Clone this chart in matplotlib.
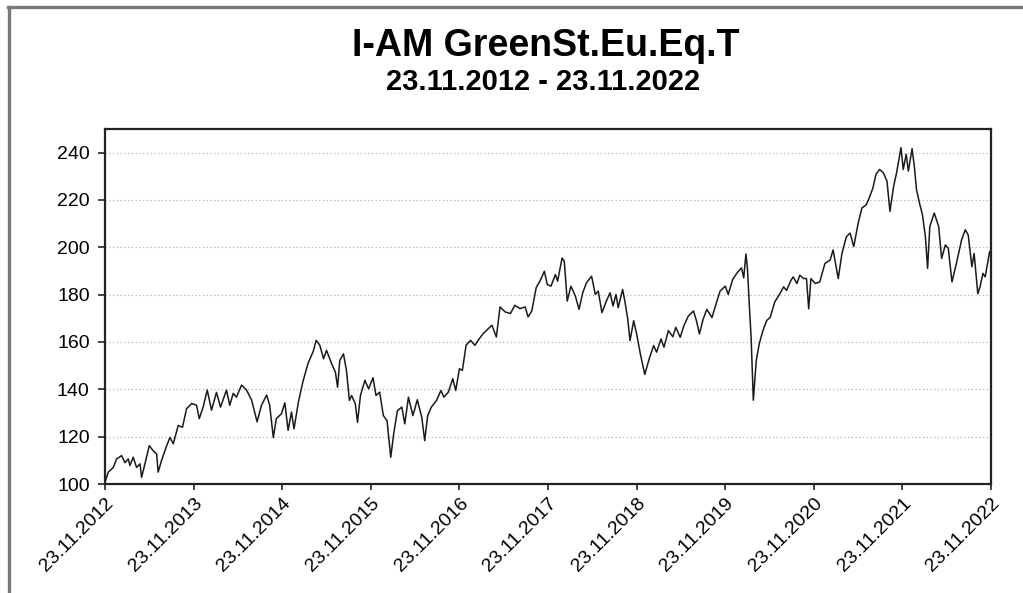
import numpy as np
import pandas as pd
import matplotlib
matplotlib.use('Agg')
import matplotlib.pyplot as plt
from matplotlib.lines import Line2D

plt.rcParams['font.family'] = ['Liberation Sans', 'DejaVu Sans']

# ── Data: months since 23.11.2012 and fund value ─────────────────────────────
START = pd.Timestamp('2012-11-23')
months = [
    0.0, 0.45, 1.13, 1.58, 2.26, 2.7, 3.16, 3.38, 3.83, 4.28, 4.74, 4.96, 5.41,
    6.0, 6.54, 7.0, 7.2, 7.67, 8.34, 8.8, 9.25, 9.92, 10.5, 11.05, 11.73, 12.4,
    12.77, 13.3, 13.85, 14.43, 15.1, 15.65, 16.46, 16.9, 17.37, 17.8, 18.5,
    19.17, 19.85, 20.6, 21.2, 21.9, 22.3, 22.8, 23.2, 23.9, 24.36, 24.8, 25.26,
    25.6, 26.2, 26.8, 27.5, 28.2, 28.6,
    29.1, 29.6, 30.0, 30.7, 31.2, 31.5, 31.8, 32.3, 32.7, 33.1, 33.4, 33.9,
    34.2, 34.6, 35.2, 35.7, 36.3, 36.7, 37.2, 37.7, 38.2, 38.7, 39.1, 39.6,
    40.2, 40.6, 41.1, 41.7, 42.3, 42.9, 43.3, 43.7, 44.2, 44.9, 45.5, 45.9,
    46.5, 47.1, 47.5, 48.0, 48.4, 48.9, 49.5, 50.1, 50.7, 51.2, 51.7, 52.4,
    53.0, 53.5, 54.2, 54.9, 55.5, 56.2, 56.9, 57.3, 57.8, 58.4,
    58.9, 59.5, 59.9, 60.4, 61.0, 61.3, 61.9, 62.2, 62.6, 63.1, 63.7, 64.2,
    64.7, 65.2, 65.9, 66.4, 66.8, 67.3, 67.9, 68.4, 68.8, 69.2, 69.5, 70.1,
    70.4, 70.8, 71.1, 71.6, 72.0, 72.5, 73.1, 73.7, 74.3, 74.7, 75.3, 75.7,
    76.3, 76.9, 77.3, 77.9, 78.4, 79.0, 79.7, 80.1, 80.5, 81.0, 81.5, 82.2,
    82.8, 83.3, 84.0, 84.4, 85.0, 85.6, 86.2, 86.5, 86.8, 87.0, 87.3, 87.5,
    87.8, 88.2, 88.6, 89.1, 89.6,
    90.1, 90.7, 91.4, 91.9, 92.3, 92.9, 93.2, 93.7, 94.1, 94.6, 95.0, 95.3,
    95.6, 96.2, 96.8, 97.5, 98.2, 98.6, 99.3, 99.8, 100.4, 100.9, 101.4,
    102.0, 102.5, 103.1, 103.5, 104.0, 104.4, 104.9, 105.4, 105.9, 106.3,
    106.8, 107.2, 107.8, 108.1, 108.5, 108.8, 109.3, 109.6, 109.9, 110.3,
    110.7, 111.1, 111.4, 111.7, 112.3, 112.9, 113.3, 113.8, 114.2, 114.7,
    115.3, 116.0, 116.5, 116.9, 117.4, 117.7, 118.2, 118.5, 118.9, 119.2,
    119.8, 120.0,
]
values = [
    100.7, 105, 107, 110.6, 112, 109, 110.6, 107.8, 111.3, 107, 108.5, 102.8,
    108.5, 116.2, 114, 112.7, 105, 110, 116, 119.7, 117, 124.7, 124, 131.8,
    134, 133.3, 127.6, 132.6, 139.7, 131.2, 138.7, 132.5, 139.7, 133.3, 138.3,
    136.7, 141.8, 139.7, 135.5, 126.3, 133.3, 137.6, 133.3, 119.6, 127.6,
    129.7, 134.3, 122.7, 130.4, 123.3, 134.7, 143.2, 151, 156, 160.7,
    158.6, 152.9, 156.5, 150.8, 147.3, 140.9, 152.2, 155, 148, 135.3, 137.4,
    133.9, 126.1, 137.4, 143.8, 140.2, 144.9, 137.4, 138.8, 128.9, 126.8,
    111.3, 121.2, 131, 132.5, 125.4, 136.7, 128.9, 135.6, 128.2, 118.3, 128.9,
    132.5, 135.3, 139.5, 136.7, 138.8, 144.5, 139.5, 148.7, 148, 158.6, 160.7,
    158.6, 161.4, 163.5, 165, 167.1, 162.1, 174.8, 172.7, 172, 175.5, 174.1,
    174.8, 170.6, 173.1, 183,
    185.7, 189.9, 184.3, 183.6, 188.5, 185.7, 195.5, 194.1, 177.3, 183.6,
    179.4, 173.8, 180.8, 185, 187.8, 180.1, 181.5, 172.4, 177.3, 180.8, 175.2,
    180.1, 174.5, 182.2, 177.3, 169.6, 160.6, 169, 163.4, 155, 146.3, 152.9,
    158.5, 155.7, 161.3, 157.8, 164.8, 162.2, 166.2, 162, 166.9, 171, 173.1,
    169, 163.4, 169.6, 173.8, 170.3, 176.6, 181.5, 183.6, 180.1, 186.4, 189.2,
    191.3, 187.1, 197.2, 191.3, 173.1, 162, 135.4, 152.2, 159.2, 164.8, 169,
    170.5, 176.9, 180.4, 183.3, 181.8, 186.1, 187.5, 184.7, 188.2, 186.8,
    186.8, 174, 186.8, 184.7, 185.4, 193.2, 194.6, 198.9, 186.8, 197.4, 204.5,
    206, 200.3, 210.2, 216.6, 218, 220.9, 225.1, 230.8, 232.9, 231.5, 228,
    215.2, 225.8, 231.5, 242.1, 232.9, 239.3, 232.2, 241.7, 234.3, 224.4,
    218.7, 213.8, 204.5, 191.1, 208.8, 214.5, 208.8, 195.3, 201, 199.6, 185.4,
    193.2, 203.1, 207.4, 205.2, 191.8, 197.4, 180.4, 183.3, 189, 187.5, 198.2,
    196,
]
yticks = [100, 120, 140, 160, 180, 200, 220, 240]
tick_years = list(range(2012, 2023))
title = 'I-AM GreenSt.Eu.Eq.T'
subtitle = '23.11.2012 - 23.11.2022'

dates = START + pd.to_timedelta(np.array(months) * 30.4375, unit='D')
xticks = [pd.Timestamp(f'{y}-11-23') for y in tick_years]

# ── Figure ───────────────────────────────────────────────────────────────────
fig = plt.figure(figsize=(10.23, 5.93), dpi=100)
fig.patch.set_facecolor('white')
ax = fig.add_axes([0.1026, 0.1838, 0.8661, 0.5987])

ax.plot(dates, values, color='#1a1a1a', lw=1.1)

ax.set_xlim(xticks[0], xticks[-1])
ax.set_ylim(100, 250)
ax.set_yticks(yticks)
ax.set_xticks(xticks)
ax.set_xticklabels([t.strftime('%d.%m.%Y') for t in xticks],
                   rotation=45, ha='right', va='top', rotation_mode='anchor')
ax.tick_params(axis='both', labelsize=14, width=1.2,
               direction='out', color='#222222')
ax.tick_params(axis='x', length=4, pad=4)
ax.tick_params(axis='y', length=5, pad=6)
ax.yaxis.grid(True, color='#b5b5b5', ls=(0, (1, 2)), lw=0.9)
ax.set_axisbelow(True)
for s in ax.spines.values():
    s.set_linewidth(1.6)
    s.set_color('#222222')

fig.text(0.533, 0.922, title, ha='center', va='center',
         fontsize=27, fontweight='bold')
fig.text(0.531, 0.861, subtitle, ha='center', va='center',
         fontsize=21, fontweight='bold')

# scanned page frame (left and top edges)
fig.add_artist(Line2D([0.0085, 0.0085], [0, 0.988], transform=fig.transFigure,
                      color='#7a7a7a', lw=2.4))
fig.add_artist(Line2D([0.0075, 1.0], [0.988, 0.988], transform=fig.transFigure,
                      color='#7a7a7a', lw=2.4))

fig.savefig('out.png', dpi=100, facecolor='white')
